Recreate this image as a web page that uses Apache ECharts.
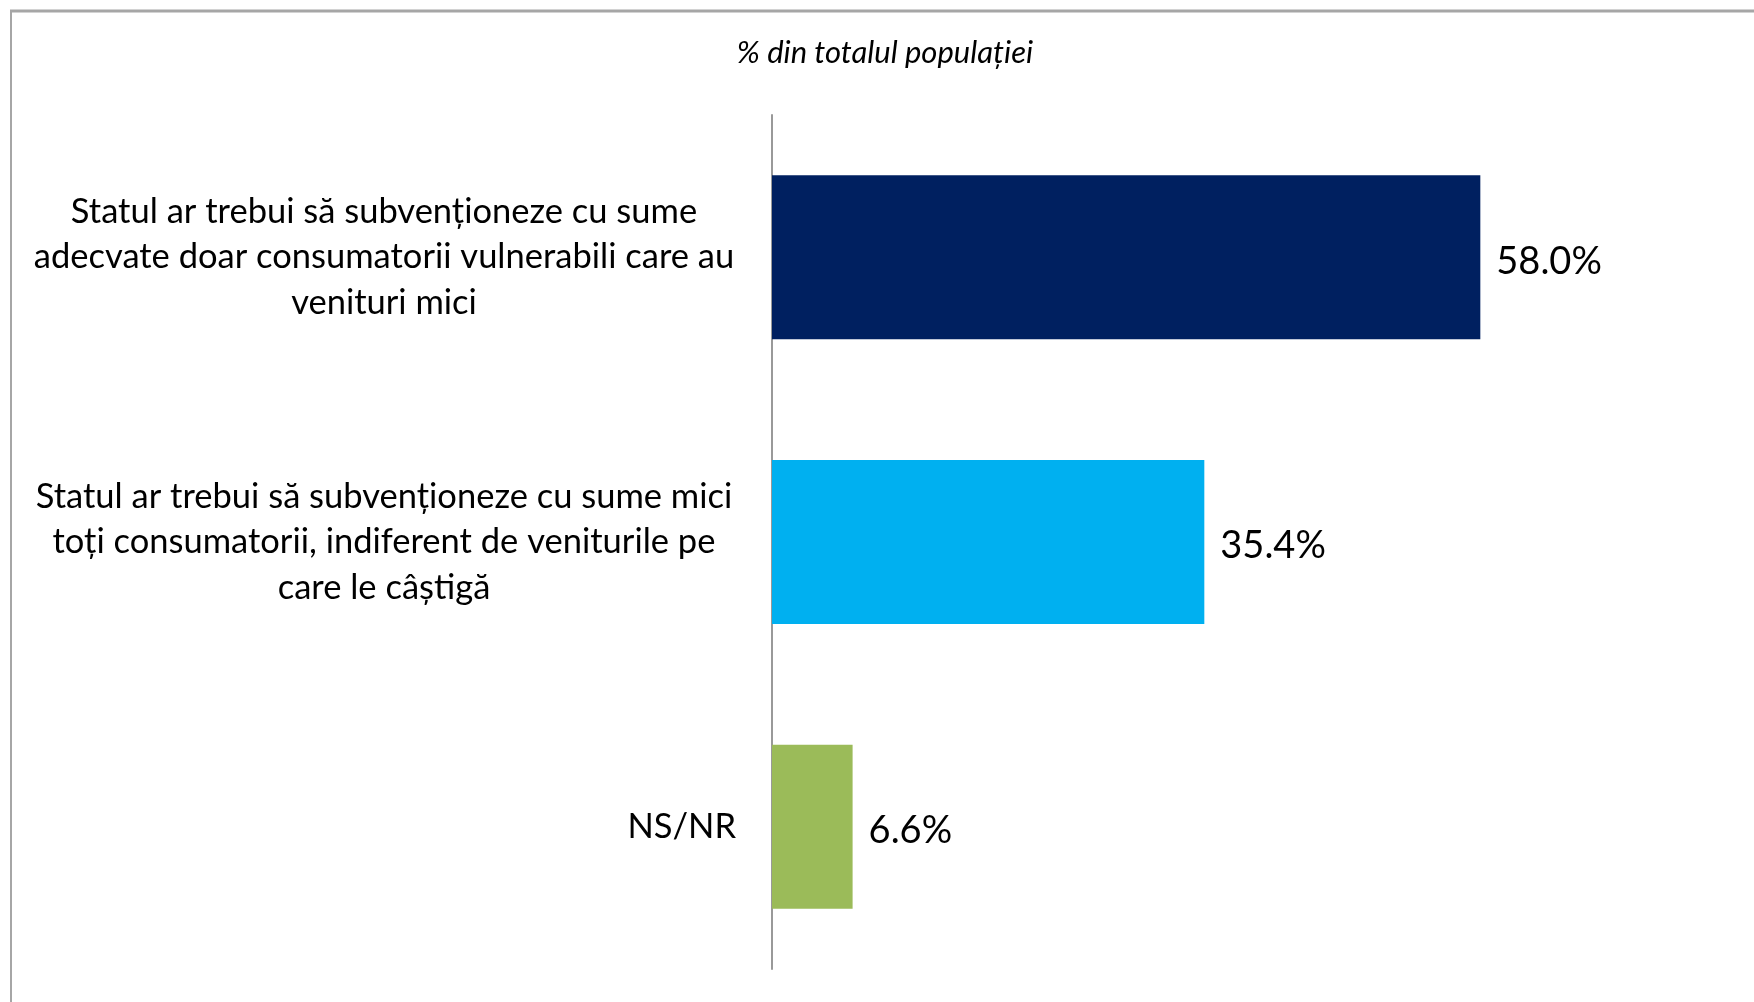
<!DOCTYPE html>
<html>
<head>
<meta charset="utf-8">
<script src="https://cdn.jsdelivr.net/npm/echarts@6/dist/echarts.min.js"></script>
<style>
html,body{margin:0;padding:0;background:#fff;}
#chart{width:1754px;height:1002px;}
</style>
</head>
<body>
<div id="chart"></div>
<script>
var categories = [
  "Statul ar trebui să subvenționeze cu sume\nadecvate doar consumatorii vulnerabili care au\nvenituri mici",
  "Statul ar trebui să subvenționeze cu sume mici\ntoți consumatorii, indiferent de veniturile pe\ncare le câștigă",
  "NS/NR"
];
var values = [58.0, 35.4, 6.6];
var barColors = ["#002060", "#00B0F0", "#9BBB59"];
var titleText = "% din totalul populației";

var chart = echarts.init(document.getElementById('chart'));
chart.setOption({
  animation: false,
  backgroundColor: '#ffffff',
  graphic: [
    { type: 'line', shape: { x1: 10, y1: 11, x2: 1754, y2: 11 }, style: { stroke: '#a6a6a6', lineWidth: 3 } },
    { type: 'line', shape: { x1: 11, y1: 10, x2: 11, y2: 1002 }, style: { stroke: '#a6a6a6', lineWidth: 2 } }
  ],
  title: {
    text: titleText,
    left: 880,
    top: 32,
    textAlign: 'center',
    textStyle: { fontFamily: 'Lato', fontStyle: 'italic', fontWeight: 'normal', fontSize: 31, color: '#000' }
  },
  grid: { left: 772, top: 115, width: 977, height: 854, containLabel: false },
  xAxis: {
    type: 'value', min: 0, max: 80, show: false
  },
  yAxis: {
    type: 'category',
    inverse: true,
    data: categories,
    axisLine: { show: true, lineStyle: { color: '#999999', width: 2 } },
    axisTick: { show: false },
    axisLabel: {
      margin: 36,
      align: 'right',
      fontFamily: 'Lato',
      fontSize: 34.5,
      lineHeight: 45.5,
      color: '#000',
      formatter: function (v) {
        if (v.indexOf('\n') < 0) return v;
        return v.split('\n').map(function (l) { return '{c|' + l + '}'; }).join('\n');
      },
      rich: {
        c: {
          width: 704,
          align: 'center',
          fontFamily: 'Lato',
          fontSize: 34.5,
          lineHeight: 45.5,
          color: '#000'
        }
      }
    }
  },
  series: [{
    type: 'bar',
    barWidth: 164,
    data: values.map(function (v, i) { return { value: v, itemStyle: { color: barColors[i] } }; }),
    label: {
      show: true,
      position: 'right',
      distance: 16,
      offset: [0, 4],
      fontFamily: 'Lato',
      fontSize: 38,
      color: '#000',
      formatter: function (p) { return p.value.toFixed(1) + '%'; }
    }
  }]
});
</script>
</body>
</html>
